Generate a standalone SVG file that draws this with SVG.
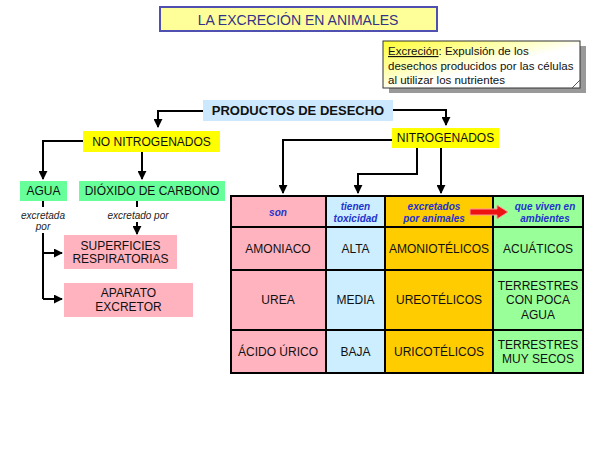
<svg xmlns="http://www.w3.org/2000/svg" width="600" height="450" viewBox="0 0 600 450">
<defs>
<marker id="ah" viewBox="0 0 10 10" refX="9" refY="5" markerWidth="4.5" markerHeight="4.5" orient="auto" markerUnits="strokeWidth">
<path d="M0,0 L10,5 L0,10 z" fill="#000"/>
</marker>
<linearGradient id="defg" x1="0" y1="0" x2="1" y2="1">
<stop offset="0" stop-color="#ffff33"/>
<stop offset="0.55" stop-color="#ffffff"/>
<stop offset="1" stop-color="#ffffff"/>
</linearGradient>
<style>
text{font-family:"Liberation Sans",Arial,sans-serif;fill:#111;}
.t{font-size:12px;text-anchor:middle;dominant-baseline:central;}
.h{font-size:10px;font-style:italic;font-weight:bold;fill:#2233cc;text-anchor:middle;dominant-baseline:central;}
.sm{font-size:10px;font-style:italic;fill:#222;text-anchor:middle;dominant-baseline:central;}
.d{font-size:11.5px;}
.c{fill:none;stroke:#000;stroke-width:2;}
.ca{fill:none;stroke:#000;stroke-width:2;marker-end:url(#ah);}
.cell{stroke:#000;stroke-width:2;}
</style>
</defs>
<rect width="600" height="450" fill="#fff"/>

<g id="title">
<rect x="160" y="7" width="277" height="24" fill="#ffff99" stroke="#5050b0" stroke-width="2"/>
<text x="298" y="19.5" class="t" style="font-size:14px;fill:#333388">LA EXCRECIÓN EN ANIMALES</text>
</g>

<g id="definicion">
<rect x="389" y="46" width="197" height="47" fill="#999"/>
<rect x="383" y="41" width="197" height="47" fill="url(#defg)" stroke="#333" stroke-width="1"/>
<path d="M572,88 L580,80" stroke="#555" stroke-width="1" fill="none"/>
<text x="388" y="55" class="d"><tspan text-decoration="underline">Excreción</tspan>: Expulsión de los</text>
<text x="388" y="69.5" class="d">desechos producidos por las células</text>
<text x="388" y="84" class="d">al utilizar los nutrientes</text>
</g>

<g id="connectors">
<polyline class="ca" points="203,111 158,111 158,127"/>
<polyline class="ca" points="393,110 446,110 446,125"/>
<polyline class="ca" points="83,141 43,141 43,179"/>
<polyline class="ca" points="142,152 142,179"/>
<line class="c" x1="43" y1="201" x2="43" y2="207"/>
<line class="c" x1="137" y1="201" x2="137" y2="207"/>
<polyline class="c" points="43,233 43,299"/>
<polyline class="ca" points="43,253 62,253"/>
<polyline class="ca" points="43,299 62,299"/>
<polyline class="ca" points="137,222 137,234"/>
<polyline class="ca" points="392,140 283,140 283,193"/>
<polyline class="ca" points="417,148 417,174 358,174 358,193"/>
<polyline class="ca" points="441,148 441,193"/>
</g>

<g id="productos">
<rect x="203" y="100" width="190" height="21" fill="#cce8ff"/>
<text x="298" y="110.5" class="t" style="font-size:13px;font-weight:bold">PRODUCTOS DE DESECHO</text>
</g>

<g id="no-nitrogenados">
<rect x="83" y="131" width="137" height="21" fill="#ffff00"/>
<text x="151.5" y="141.5" class="t">NO NITROGENADOS</text>
</g>

<g id="nitrogenados">
<rect x="392" y="128" width="107" height="20" fill="#ffff00"/>
<text x="445.5" y="138" class="t">NITROGENADOS</text>
</g>

<g id="agua">
<rect x="20" y="181" width="47" height="20" fill="#66ff99"/>
<text x="43.5" y="191" class="t">AGUA</text>
</g>

<g id="dioxido">
<rect x="79" y="181" width="146" height="20" fill="#66ff99"/>
<text x="152" y="191" class="t">DIÓXIDO DE CARBONO</text>
</g>

<g id="lbl-excretada">
<text x="43" y="215" class="sm">excretada</text>
<text x="43" y="226.5" class="sm">por</text>
</g>
<g id="lbl-excretado">
<text x="138" y="215" class="sm">excretado por</text>
</g>

<g id="superficies">
<rect x="64" y="235" width="113" height="34" fill="#ffb3bf"/>
<text x="120.5" y="246" class="t">SUPERFICIES</text>
<text x="120.5" y="259" class="t">RESPIRATORIAS</text>
</g>

<g id="aparato">
<rect x="64" y="283" width="129" height="34" fill="#ffb3bf"/>
<text x="128.5" y="293" class="t">APARATO</text>
<text x="128.5" y="307" class="t">EXCRETOR</text>
</g>

<g id="tabla">
<rect class="cell" x="231" y="196" width="95" height="31" fill="#ffb3bf"/>
<rect class="cell" x="326" y="196" width="59" height="31" fill="#cceeff"/>
<rect class="cell" x="385" y="196" width="108" height="31" fill="#ffcc00"/>
<rect class="cell" x="493" y="196" width="90" height="31" fill="#99ff99"/>

<rect class="cell" x="231" y="227" width="95" height="43" fill="#ffb3bf"/>
<rect class="cell" x="326" y="227" width="59" height="43" fill="#cceeff"/>
<rect class="cell" x="385" y="227" width="108" height="43" fill="#ffcc00"/>
<rect class="cell" x="493" y="227" width="90" height="43" fill="#99ff99"/>

<rect class="cell" x="231" y="270" width="95" height="60" fill="#ffb3bf"/>
<rect class="cell" x="326" y="270" width="59" height="60" fill="#cceeff"/>
<rect class="cell" x="385" y="270" width="108" height="60" fill="#ffcc00"/>
<rect class="cell" x="493" y="270" width="90" height="60" fill="#99ff99"/>

<rect class="cell" x="231" y="330" width="95" height="43" fill="#ffb3bf"/>
<rect class="cell" x="326" y="330" width="59" height="43" fill="#cceeff"/>
<rect class="cell" x="385" y="330" width="108" height="43" fill="#ffcc00"/>
<rect class="cell" x="493" y="330" width="90" height="43" fill="#99ff99"/>

<text x="278" y="212" class="h">son</text>
<text x="355.5" y="206" class="h">tienen</text>
<text x="355.5" y="218" class="h">toxicidad</text>
<text x="434" y="206" class="h">excretados</text>
<text x="434" y="218" class="h">por animales</text>
<text x="545" y="206" class="h">que viven en</text>
<text x="545" y="218" class="h">ambientes</text>

<polygon points="470,209 497,209 497,205 508,212 497,219 497,215 470,215" fill="#ee1111" stroke="#ff9999" stroke-width="1"/>

<text x="278" y="248.5" class="t">AMONIACO</text>
<text x="355.5" y="248.5" class="t">ALTA</text>
<text x="439" y="248.5" class="t">AMONIOTÉLICOS</text>
<text x="538" y="248.5" class="t">ACUÁTICOS</text>

<text x="278" y="300" class="t">UREA</text>
<text x="355.5" y="300" class="t">MEDIA</text>
<text x="439" y="300" class="t">UREOTÉLICOS</text>
<text x="538" y="286" class="t">TERRESTRES</text>
<text x="538" y="300" class="t">CON POCA</text>
<text x="538" y="314.5" class="t">AGUA</text>

<text x="278" y="352" class="t">ÁCIDO ÚRICO</text>
<text x="355.5" y="352" class="t">BAJA</text>
<text x="439" y="352" class="t">URICOTÉLICOS</text>
<text x="538" y="345" class="t">TERRESTRES</text>
<text x="538" y="359" class="t">MUY SECOS</text>
</g>
</svg>
